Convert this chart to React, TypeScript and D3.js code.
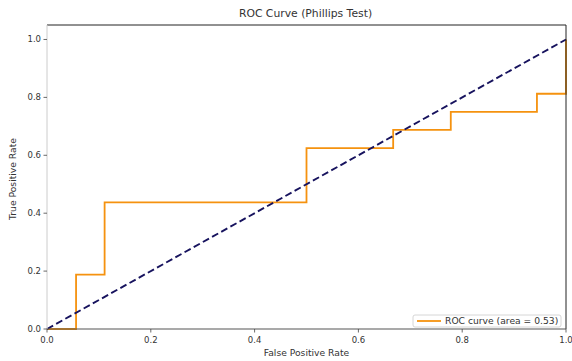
import React from 'react';
import * as d3 from 'd3';

// ROC points
const fpr = [0, 0.056, 0.111, 0.5, 0.667, 0.778, 0.944, 1.0];
const tpr = [0, 0.1875, 0.4375, 0.625, 0.6875, 0.75, 0.8125, 1.0];
const chance = [0, 1];
const ticks = [0, 0.2, 0.4, 0.6, 0.8, 1.0];
const legendLabel = 'ROC curve (area = 0.53)';

const W = 572, H = 361;
const margin = { top: 25, right: 6, bottom: 32, left: 47 };

export default function App() {
  const iw = W - margin.left - margin.right;
  const ih = H - margin.top - margin.bottom;

  const x = d3.scaleLinear().domain([0, 1]).range([0, iw]);
  const y = d3.scaleLinear().domain([0, 1.05]).range([ih, 0]);

  const roc = d3.line<number>()
    .x((d, i) => x(fpr[i]))
    .y((d, i) => y(tpr[i]))
    .curve(d3.curveStepAfter)(fpr);

  const diag = d3.line<number>()
    .x(d => x(d))
    .y(d => y(d))(chance);

  const font = '"DejaVu Sans", sans-serif';
  const tickCol = '#444';

  return (
    <svg width={W} height={H} style={{ position: 'absolute', left: 0, top: 0 }}
      fontFamily={font}>
      <rect width={W} height={H} fill="#fff" />
      <text x={margin.left + iw / 2 - 1} y={17} textAnchor="middle" fontSize={10.8} fill="#333">
        ROC Curve (Phillips Test)
      </text>
      <g transform={`translate(${margin.left},${margin.top})`}>
        <path d={roc || ''} fill="none" stroke="#f5920f" strokeWidth={1.8} />
        <path d={diag || ''} fill="none" stroke="#17135e" strokeWidth={1.9} strokeDasharray="7,3.5" />

        {/* spines */}
        <line x1={0} x2={iw} y1={0} y2={0} stroke="#222" strokeWidth={1} />
        <line x1={iw} x2={iw} y1={0} y2={ih} stroke="#222" strokeWidth={1} />
        <line x1={0} x2={iw} y1={ih} y2={ih} stroke="#555" strokeWidth={1.2} />
        <line x1={0} x2={0} y1={0} y2={ih} stroke="#ccc" strokeWidth={1} />

        {ticks.map(t => (
          <g key={'x' + t} transform={`translate(${x(t)},${ih})`}>
            <line y2={3.5} stroke={tickCol} strokeWidth={0.8} />
            <text y={14} textAnchor="middle" fontSize={8.5} fill="#333">{t.toFixed(1)}</text>
          </g>
        ))}
        {ticks.map(t => (
          <g key={'y' + t} transform={`translate(0,${y(t)})`}>
            <line x2={-3.5} stroke={tickCol} strokeWidth={0.8} />
            <text x={-6} dy="0.35em" textAnchor="end" fontSize={8.5} fill="#333">{t.toFixed(1)}</text>
          </g>
        ))}

        {/* legend */}
        <g transform={`translate(${iw - 153},${ih - 14})`}>
          <rect width={148} height={12} rx={2} fill="#fff" stroke="#ccc" strokeWidth={0.8} />
          <line x1={4} x2={28} y1={6} y2={6} stroke="#f5920f" strokeWidth={1.8} />
          <text x={32} y={6} dy="0.35em" fontSize={9.2} fill="#333">{legendLabel}</text>
        </g>
      </g>
      <text x={margin.left + iw / 2} y={356} textAnchor="middle" fontSize={9.2} fill="#333">
        False Positive Rate
      </text>
      <text transform={`translate(16,${margin.top + ih / 2 + 2}) rotate(-90)`} textAnchor="middle"
        fontSize={9.2} fill="#333">
        True Positive Rate
      </text>
    </svg>
  );
}
